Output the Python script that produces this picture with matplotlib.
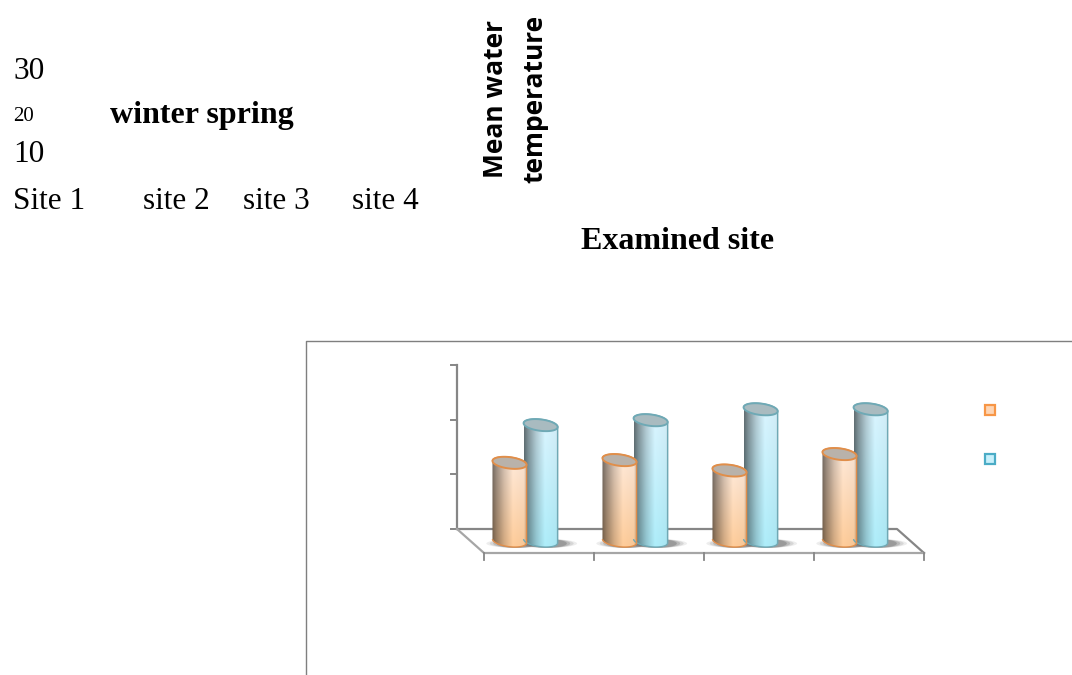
import numpy as np
import matplotlib
matplotlib.use("Agg")
import matplotlib.pyplot as plt
from matplotlib.lines import Line2D
from matplotlib.patches import PathPatch, Polygon, Rectangle
from matplotlib.path import Path
from matplotlib.transforms import Affine2D

W, H = 1072, 675

# values (mean water temperature per site)
sites = ["Site 1", "site 2", "site 3", "site 4"]
winter = [14.3, 14.8, 12.9, 15.9]
spring = [21.2, 22.1, 24.1, 24.1]
y_ticks = [0, 10, 20, 30]

GREY = "#868686"


def ellipse(cx, cy, w, h, tilt, t0=0.0, t1=2 * np.pi):
    t = np.linspace(t0, t1, 60)
    return cx + w / 2 * np.cos(t), cy + h * np.sin(t) - tilt * np.cos(t)


def shading(base, top_col):
    # left dark edge, bright middle, tint gets stronger towards the bottom
    xs = np.linspace(0, 1, 64)
    ys = np.linspace(0, 1, 64)
    side = np.interp(xs, [0, 0.12, 0.35, 0.6, 0.92, 1], [0.45, 0.6, 0.83, 1.0, 0.97, 0.78])
    img = np.zeros((64, 64, 3))
    for i, fy in enumerate(ys):
        col = np.array(top_col) * (1 - fy) + np.array(base) * fy
        img[i, :, :] = col * side[:, None]
    return img


def cylinder(ax, x, val, width, base, top_col, edge, lid):
    hh = 1.05
    tilt = 0.35
    xb, yb = ellipse(x, 0, width, hh, tilt, np.pi, 2 * np.pi)
    xt, yt = ellipse(x, val, width, hh, tilt, 0, np.pi)
    outline = np.column_stack([np.r_[xb, xt], np.r_[yb, yt]])
    # soft shadow on the floor
    for k, a in zip([1.75, 1.55, 1.35, 1.15], [0.1, 0.15, 0.22, 0.3]):
        sx, sy = ellipse(x + 0.06, -0.45, width * k, 0.8, 0)
        ax.add_patch(Polygon(np.column_stack([sx, sy]), fc="#555555", ec="none", alpha=a, zorder=2))
    im = ax.imshow(shading(base, top_col), extent=(x - width / 2, x + width / 2, -hh - 0.5, val + hh),
                   origin="upper", aspect="auto", zorder=3, interpolation="bilinear")
    patch = PathPatch(Path(outline), fc="none", ec=edge, lw=1.0, zorder=4)
    ax.add_patch(patch)
    im.set_clip_path(patch)
    xl, yl = ellipse(x, val, width, hh, tilt)
    ax.add_patch(Polygon(np.column_stack([xl, yl]), fc=lid, ec=edge, lw=1.4, zorder=5))


fig = plt.figure(figsize=(W / 100, H / 100), dpi=100)
px = Affine2D().scale(1, -1).translate(0, H)

# outer chart frame, runs off the page
fig.add_artist(Line2D([306, 306, 1072], [675, 341, 341], color="#7f7f7f", lw=1.0, transform=px))

# walls and floor
fig.add_artist(Line2D([457, 457], [365, 529], color=GREY, lw=1.6, transform=px))
for v in y_ticks:
    yy = 529 - v * 5.47
    fig.add_artist(Line2D([451, 457], [yy, yy], color=GREY, lw=1.4, transform=px))
fig.add_artist(Line2D([457, 897, 924], [529, 529, 553], color=GREY, lw=1.6, transform=px))
fig.add_artist(Line2D([457, 484, 924], [529, 553, 553], color="#a6a6a6", lw=1.6, transform=px))
for xx in [484, 594, 704, 814, 924]:
    fig.add_artist(Line2D([xx, xx], [553, 560], color=GREY, lw=1.3, transform=px))

# one unit of x is one site, y is the temperature (axes reaches below 0 for the round bases)
ax = fig.add_axes([484 / W, (H - 541 - 21.88) / H, 440 / W, (164 + 21.88) / H])
ax.axis("off")
ax.patch.set_alpha(0)
ax.set_zorder(2)

pos = np.arange(len(sites))
for i in pos:
    cylinder(ax, i + 0.515, spring[i], 0.31, (0.68, 0.93, 0.98), (0.86, 0.96, 1.0), "#6fa9b5", "#a9bbc0")
    cylinder(ax, i + 0.232, winter[i], 0.31, (1.0, 0.80, 0.60), (1.0, 0.92, 0.86), "#e08e4a", "#b9b2aa")
ax.set_xlim(0, 4)
ax.set_ylim(-4, 30)

# legend keys, their labels sit in the text above
fig.add_artist(Rectangle((985, 405), 10, 10, fc="#fdd5b5", ec="#f79646", lw=1.6, transform=px))
fig.add_artist(Rectangle((985, 454), 10, 10, fc="#c8f0fb", ec="#4bacc6", lw=1.6, transform=px))


def label(x, y, s, size, weight="normal", family="Liberation Serif", **kw):
    fig.text(x / W, 1 - y / H, s, fontsize=size, fontweight=weight, family=family, va="baseline", **kw)


label(13, 79, "30", 22.5)
label(13, 121, "20", 15)
label(110, 123, "winter spring", 23, "bold")
label(13, 162, "10", 22.5)
label(13, 209, sites[0], 22.5)
label(143, 209, sites[1], 22.5)
label(243, 209, sites[2], 22.5)
label(352, 209, sites[3], 22.5)
label(581, 249, "Examined site", 23, "bold")

fig.text(515 / W, 1 - 99 / H, "Mean water\ntemperature", rotation=90, fontsize=19, fontweight="bold",
         family="Open Sans", ha="center", va="center", multialignment="center", linespacing=1.6)

fig.savefig("out.png", dpi=100)
